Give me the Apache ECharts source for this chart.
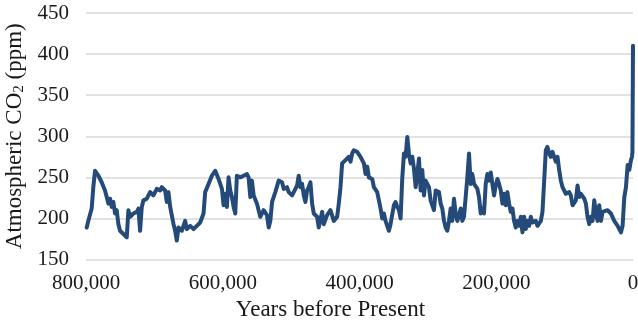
<!DOCTYPE html>
<html>
<head>
<meta charset="utf-8">
<script src="https://cdn.jsdelivr.net/npm/echarts@6/dist/echarts.min.js"></script>
<style>
html,body{margin:0;padding:0;background:#fff;}
#chart{width:638px;height:320px;}
</style>
</head>
<body>
<div id="chart"></div>
<script>
// Years before present (x) and atmospheric CO2 in ppm (y)
var yearsBP = [
799000,796600,791700,789300,786800,781900,777100,772200,769700,767300,
764800,762400,760000,757500,755100,752600,750200,745300,740400,738000,
735500,730700,725800,723300,720900,718400,716000,711100,706200,701400,
696500,691600,689100,684300,681800,679400,676900,674500,672000,669600,
667200,664700,659800,655000,652500,647600,642700,637900,633000,628100,
625700,620800,615900,611000,608600,606100,603700,601200,598800,596300,
593900,591500,589000,586600,584100,581700,579300,574400,569500,564600,
562200,559700,557300,554800,550000,545100,540200,535300,
532800,530400,527900,525500,523100,518200,513300,510800,506000,503500,
498600,493700,491300,488900,486400,484000,481500,479100,476700,474200,
471800,469300,466900,462000,459600,454700,452200,447400,442500,437600,
432700,430300,427800,425400,420500,415600,413200,410700,408300,403400,
398500,393600,391200,388700,386300,381400,379000,374100,371600,369200,
366800,364300,361900,357000,354600,349700,347200,344800,342300,339900,
337500,335000,332600,330100,327700,325200,322800,320400,317900,315500,
313000,310600,308200,305700,303300,298400,296000,293500,291100,288600,
283800,281300,278900,276400,274000,271500,269100,
266700,264300,261800,259400,256900,254500,252000,249600,247200,244700,
242300,239800,237400,235000,232500,227600,225200,222700,220300,217900,
215400,213000,210500,208100,205700,203200,200800,198300,195900,193400,
191000,188600,186100,183700,181200,178800,176300,173900,171500,169000,
166600,164100,161700,159300,156800,154400,151900,149500,147000,142200,
139700,134800,132400,129900,127500,125100,122600,120200,117700,115300,
112800,110400,108000,105500,103100,100600,98200,95800,93300,90900,
88400,86000,83600,81100,78700,76200,73800,71300,68900,66500,
64000,61600,59100,56700,54200,51800,49400,46900,44500,42000,
37200,32300,27400,22500,20100,17600,15200,12700,10300,7800,
5400,3000,1500,800,200,0
];
var co2ppm = [
189,197,212,238,258,252,244,234,226,218,
224,214,220,206,210,193,185,181,177,210,
202,206,208,212,185,214,222,224,232,228,
236,234,238,234,220,232,214,212,193,185,
173,189,185,197,187,191,187,191,195,206,
232,242,252,258,256,248,242,236,216,230,
214,250,234,226,214,206,252,250,252,254,
250,226,246,228,218,202,210,204,
189,197,220,222,232,246,244,236,238,232,
228,236,240,252,238,242,228,220,234,238,
244,218,206,202,189,208,193,204,210,197,
202,218,238,267,271,275,269,279,283,281,
275,267,254,263,250,248,238,232,222,212,
200,206,197,185,193,216,220,214,210,200,
248,279,275,299,279,267,275,261,238,254,
273,234,259,228,246,238,222,216,210,234,
232,218,212,197,189,185,197,
212,197,224,206,197,204,212,197,202,226,
250,279,242,254,242,236,226,206,212,206,
242,254,246,256,242,228,240,248,242,234,
218,230,216,232,218,208,212,197,189,197,
191,202,183,202,187,197,191,202,195,197,
191,197,208,246,283,287,279,275,281,275,
269,275,259,246,238,234,230,228,232,228,
216,214,222,240,226,230,228,224,218,202,
193,202,197,222,206,197,216,197,208,210,
210,206,197,191,189,183,191,226,238,265,
259,271,275,281,280,410
];
var yTicks = [150, 200, 250, 300, 350, 400, 450];
var xTicks = [800000, 600000, 400000, 200000, 0];

var seriesData = yearsBP.map(function (y, i) { return [y, co2ppm[i]]; });
var font = "'Liberation Serif', 'DejaVu Serif', serif";

var chart = echarts.init(document.getElementById('chart'), null, {renderer: 'canvas'});
chart.setOption({
  animation: false,
  backgroundColor: '#ffffff',
  grid: {left: 86, right: 5, top: 13, bottom: 60.5, containLabel: false, outerBoundsMode: 'none'},
  xAxis: {
    type: 'value',
    inverse: true,
    min: xTicks[xTicks.length - 1],
    max: xTicks[0],
    interval: 200000,
    name: 'Years before Present',
    nameLocation: 'middle',
    nameGap: 35,
    nameTextStyle: {fontFamily: font, fontSize: 23, color: '#1a1a1a', padding: [0, 58, 0, 0]},
    axisLine: {show: false},
    axisTick: {show: false},
    splitLine: {show: false},
    axisLabel: {
      fontFamily: font, fontSize: 21, color: '#1a1a1a', margin: 13,
      formatter: function (v) { return v.toLocaleString('en-US'); }
    }
  },
  yAxis: {
    type: 'value',
    min: yTicks[0],
    max: yTicks[yTicks.length - 1],
    interval: 50,
    name: 'Atmospheric CO{sub|2} (ppm)',
    nameLocation: 'middle',
    nameRotate: 90,
    nameGap: 58,
    nameTextStyle: {
      fontFamily: font, fontSize: 23, color: '#1a1a1a',
      rich: {
        sub: {fontFamily: font, fontSize: 15, color: '#1a1a1a', lineHeight: 9, verticalAlign: 'bottom'}
      }
    },
    axisLine: {show: false},
    axisTick: {show: false},
    splitLine: {show: true, lineStyle: {color: '#d9d9d9', width: 1.5}},
    axisLabel: {fontFamily: font, fontSize: 21, color: '#1a1a1a', margin: 17}
  },
  series: [{
    type: 'line',
    data: seriesData,
    showSymbol: false,
    symbol: 'none',
    clip: false,
    lineStyle: {color: '#244a7a', width: 4, join: 'round', cap: 'round'}
  }]
});
</script>
</body>
</html>
